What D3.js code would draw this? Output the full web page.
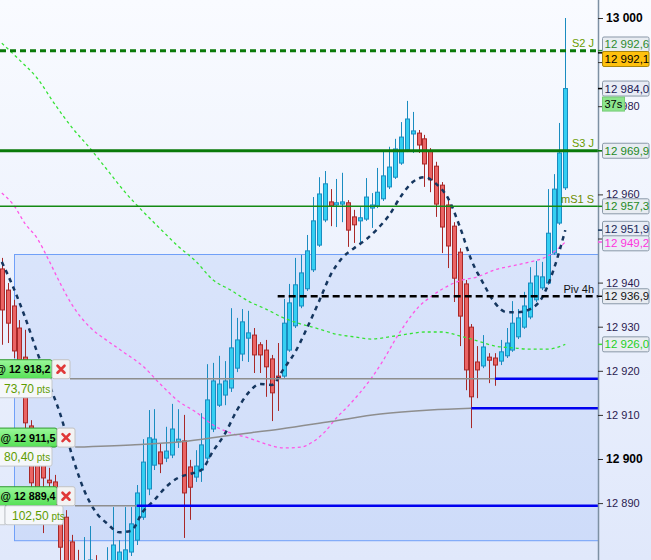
<!DOCTYPE html>
<html><head><meta charset="utf-8">
<script src="https://cdn.jsdelivr.net/npm/d3@7/dist/d3.min.js"></script>
<style>html,body{margin:0;padding:0;background:#fff;}svg{display:block;font-family:"Liberation Sans",Arial,Helvetica,sans-serif;}</style>
</head><body>
<svg id="chart" width="651" height="560"></svg>
<script>
// ---------------- DATA ----------------
const openP=[12943.1,12938.3,12934.7,12929.7,12923.1,12907.5,12905.0,12904.3,12895.2,12894.8,12886.8,12886.8,12881.2,12876.0,12872.6,12873.7,12874.8,12871.4,12872.6,12874.8,12873.7,12876.0,12878.9,12881.6,12886.8,12893.2,12898.6,12901.6,12900.2,12900.9,12903.9,12904.1,12898.2,12895.9,12897.5,12900.2,12906.8,12912.2,12914.5,12916.1,12920.6,12923.8,12927.4,12928.1,12925.9,12924.7,12922.7,12918.8,12918.8,12924.7,12930.2,12934.7,12938.6,12942.9,12948.5,12954.2,12958.3,12957.6,12957.8,12958.1,12954.9,12954.0,12954.4,12956.9,12957.4,12959.0,12961.7,12963.9,12967.1,12970.1,12973.7,12973.9,12972.6,12969.8,12966.4,12962.1,12957.6,12952.8,12946.9,12939.7,12929.9,12922.0,12921.1,12923.1,12922.9,12922.2,12923.4,12924.7,12927.7,12929.9,12932.2,12936.1,12938.8,12939.9,12946.7,12953.5,12961.5];
const highP=[12945.6,12939.9,12936.1,12931.5,12929.3,12908.8,12906.6,12905.4,12898.0,12896.4,12889.6,12888.4,12882.8,12879.4,12882.3,12884.8,12878.2,12877.1,12880.0,12889.1,12881.6,12889.1,12889.1,12894.1,12904.5,12911.1,12911.3,12903.6,12907.3,12912.5,12911.3,12910.0,12899.8,12902.0,12910.4,12921.5,12921.8,12923.4,12922.2,12934.2,12932.0,12934.0,12933.6,12929.7,12926.5,12927.0,12923.6,12926.3,12936.3,12939.7,12945.6,12946.3,12950.8,12959.4,12963.9,12965.3,12961.2,12963.5,12964.9,12958.7,12956.5,12957.1,12963.7,12960.3,12966.0,12969.8,12970.8,12972.6,12976.4,12981.2,12978.7,12974.6,12973.5,12970.5,12967.4,12962.8,12958.7,12953.7,12947.8,12940.6,12930.6,12925.6,12928.1,12924.0,12924.0,12927.0,12929.7,12935.8,12934.0,12937.9,12943.5,12944.9,12944.7,12961.2,12964.6,12976.2,13000.0];
const lowP=[12925.9,12926.3,12922.9,12920.2,12906.6,12893.0,12887.8,12883.2,12890.7,12886.2,12877.1,12873.7,12872.6,12869.2,12870.3,12870.3,12870.3,12869.2,12870.3,12873.7,12872.6,12874.8,12878.0,12880.5,12886.2,12891.8,12897.5,12896.8,12899.3,12900.2,12902.5,12882.1,12886.2,12894.8,12894.8,12899.3,12906.1,12911.8,12912.2,12915.2,12919.7,12922.2,12922.0,12919.5,12919.5,12914.1,12908.6,12910.9,12918.4,12924.3,12929.7,12934.2,12938.1,12942.4,12948.1,12953.7,12952.8,12952.6,12953.7,12948.1,12949.0,12949.2,12954.0,12952.4,12956.9,12958.5,12961.2,12963.5,12966.7,12969.6,12969.4,12969.4,12961.7,12960.5,12954.9,12946.7,12943.3,12935.6,12925.6,12915.6,12907.0,12913.8,12920.6,12917.2,12916.6,12921.3,12922.9,12924.3,12927.2,12929.5,12931.7,12935.6,12938.3,12939.5,12946.3,12953.1,12961.0];
const closeP=[12933.8,12930.8,12924.5,12922.0,12908.2,12894.6,12893.0,12895.7,12894.6,12889.1,12880.0,12876.0,12874.8,12871.4,12874.8,12877.1,12872.6,12873.7,12876.0,12880.5,12878.9,12879.4,12885.3,12892.3,12899.3,12904.8,12904.5,12898.9,12901.8,12906.8,12904.5,12892.3,12893.6,12898.4,12903.2,12913.4,12917.7,12917.0,12917.7,12925.2,12927.0,12931.1,12928.6,12923.6,12923.6,12920.9,12915.0,12918.4,12930.8,12935.4,12939.5,12942.2,12947.2,12954.0,12960.1,12962.4,12957.4,12958.1,12958.3,12951.9,12953.1,12954.7,12959.4,12957.6,12960.5,12964.2,12966.2,12970.3,12973.0,12977.1,12974.4,12971.2,12966.9,12963.3,12957.8,12952.6,12948.3,12941.0,12932.4,12920.2,12914.1,12920.2,12925.4,12922.4,12921.3,12924.3,12926.3,12930.8,12932.0,12934.7,12939.9,12941.5,12941.3,12951.2,12961.2,12969.4,12984.0];

// moving averages: [candle index] / [value]
const navyIdx=[0,2,4,6,8,10,12,14,16,18,20,22,24,26,28,30,32,34,36,38,40,42,44,46,48,50,52,54,56,58,60,62,64,66,68,70,72,74,76,78,80,82,84,86,88,90,92,94,96];
const navyVal=[12944.7,12938.8,12932.0,12924.3,12917.2,12910.0,12900.7,12893.0,12888.0,12885.3,12883.4,12883.7,12888.0,12890.7,12893.7,12895.7,12896.6,12897.5,12901.8,12905.7,12910.9,12915.0,12917.0,12916.8,12920.4,12924.3,12929.7,12935.6,12941.7,12945.6,12947.8,12949.7,12952.2,12955.3,12959.6,12962.8,12963.9,12962.4,12959.2,12952.8,12945.1,12939.9,12935.4,12933.3,12933.3,12934.0,12936.5,12942.9,12951.9];
const greenIdx=[0,3,6,9,12,15,18,21,24,27,30,33,36,39,42,45,48,51,54,57,60,63,66,69,72,75,78,81,84,87,90,93,96];
const greenVal=[12994.3,12990.5,12986.4,12980.5,12975.1,12970.5,12965.5,12960.5,12956.2,12952.2,12948.3,12944.9,12940.6,12938.3,12935.8,12934.0,12932.0,12930.6,12929.5,12928.3,12927.7,12927.2,12927.7,12928.3,12928.8,12928.8,12927.9,12926.8,12925.6,12925.2,12924.9,12924.9,12926.0];
const magIdx=[0,2,4,6,8,10,12,15,18,21,24,27,30,33,36,39,42,45,48,51,53,55,57,59,61,63,65,67,69,71,73,75,78,81,84,87,90,93,96];
const magVal=[12960.3,12957.6,12953.3,12950.1,12945.1,12939.7,12934.9,12929.9,12926.8,12924.0,12921.1,12917.0,12913.2,12910.7,12907.7,12905.9,12904.8,12903.4,12902.5,12902.7,12903.9,12906.1,12909.3,12912.0,12915.0,12918.4,12922.4,12927.0,12931.1,12934.5,12936.7,12938.5,12940.4,12941.3,12942.9,12943.8,12944.7,12946.0,12949.2];
const greyIdx=[12.5,22,30.5,39,47.5,56,64.5,73,80];
const greyVal=[12902.7,12903.2,12903.9,12905.4,12906.8,12908.5,12910.2,12911.1,12911.5];

// levels
const levelNames=["S2 J","S3 J","mS1 S","Piv 4h"];
const levelValues=[12992.6,12969.9,12957.3,12936.9];
const pivStartIdx=47;

// zone box
const zoneTop=12946.5, zoneBottom=12881.6, zoneStartIdx=2.1;

// orders
const orderPrices=[12918.2,12911.5,12889.4];
const orderPts=["73,70","80,40","102,50"];
const orderStartIdx=[84,80,23];

// axis
const tickValues=[12890,12900,12910,12920,12930,12940,12950,12960,12970,12980,12990,13000];
const priceLabels=[12992.6,12992.1,12984.0,12969.9,12957.3,12951.9,12949.2,12936.9,12926.0];
const timerText="37s";

// ---------------- DRAW ----------------
const svg=d3.select("#chart");
const W=651,H=560,AX=598;
const y=d3.scaleLinear().domain([12900,13000]).range([459,18]);
const x=d3.scaleLinear().domain([0,96]).range([1.8,565.3]);
const loc=d3.formatLocale({decimal:",",thousands:" ",grouping:[3],currency:["",""]});
const f0=loc.format(",.0f"), f1=loc.format(",.1f");

const defs=svg.append("defs");
const bg=defs.append("linearGradient").attr("id","bg").attr("x1",0).attr("y1",0).attr("x2",0).attr("y2",1);
bg.append("stop").attr("offset",0).attr("stop-color","#f9fbff");
bg.append("stop").attr("offset",1).attr("stop-color","#e0e8fb");
const gg=defs.append("linearGradient").attr("id","gGreen").attr("x1",0).attr("y1",0).attr("x2",0).attr("y2",1);
gg.append("stop").attr("offset",0).attr("stop-color","#9af79a");
gg.append("stop").attr("offset",1).attr("stop-color","#55e055");

svg.append("rect").attr("width",W).attr("height",H).attr("fill","url(#bg)");

// zone box
svg.append("rect").attr("x",Math.round(x(zoneStartIdx))+0.5).attr("y",Math.round(y(zoneTop))+0.5)
  .attr("width",AX-Math.round(x(zoneStartIdx))).attr("height",y(zoneBottom)-y(zoneTop))
  .attr("fill","#6f9bf5").attr("fill-opacity",0.16).attr("stroke","#70a0f8").attr("stroke-width",1);

// candles
const candles=openP.map((o,i)=>({i,o,h:highP[i],l:lowP[i],c:closeP[i],up:closeP[i]>=o}));
const cg=svg.append("g");
cg.selectAll("line").data(candles).join("line")
  .attr("x1",d=>Math.round(x(d.i))+0.5).attr("x2",d=>Math.round(x(d.i))+0.5)
  .attr("y1",d=>y(d.h)).attr("y2",d=>y(d.l))
  .attr("stroke",d=>d.up?"#1a8cc0":"#a82828").attr("stroke-width",1);
cg.selectAll("rect").data(candles).join("rect")
  .attr("x",d=>Math.round(x(d.i))-1.5).attr("width",4)
  .attr("y",d=>Math.min(y(d.o),y(d.c))).attr("height",d=>Math.max(1.5,Math.abs(y(d.o)-y(d.c))))
  .attr("fill",d=>d.up?"#35cff2":"#ea6464").attr("stroke",d=>d.up?"#1a8cc0":"#a82828").attr("stroke-width",1);

const lineGen=(idx,val)=>d3.line().curve(d3.curveMonotoneX).x((d,i)=>x(idx[i])).y(d=>y(d))(val);

// green & magenta MAs
svg.append("path").attr("d",lineGen(greenIdx,greenVal)).attr("fill","none").attr("stroke","#36e236").attr("stroke-width",1.3).attr("stroke-dasharray","3,3");
svg.append("path").attr("d",lineGen(magIdx,magVal)).attr("fill","none").attr("stroke","#ff55e6").attr("stroke-width",1.3).attr("stroke-dasharray","3,3");
// grey connector curve
svg.append("path").attr("d",lineGen(greyIdx,greyVal)).attr("fill","none").attr("stroke","#8e8e8e").attr("stroke-width",1.5);
// navy MA
svg.append("path").attr("d",lineGen(navyIdx,navyVal)).attr("fill","none").attr("stroke","#15365f").attr("stroke-width",2.5).attr("stroke-dasharray","4.5,4.5");

// level lines
const lvStyle=[
 {c:"#0a7a0a",w:3,dash:"6,4",tc:"#6a9c00"},
 {c:"#0a7a0a",w:3,dash:null,tc:"#6a9c00"},
 {c:"#148a14",w:1.5,dash:null,tc:"#6e8c00"},
 {c:"#000000",w:2.5,dash:"7,4",tc:"#111111"}];
levelValues.forEach((v,k)=>{
  const s=lvStyle[k];
  const x0=(k===3)?x(pivStartIdx):0;
  svg.append("line").attr("x1",x0).attr("x2",AX).attr("y1",y(v)).attr("y2",y(v))
    .attr("stroke",s.c).attr("stroke-width",s.w).attr("stroke-dasharray",s.dash);
  svg.append("text").attr("x",594).attr("y",y(v)-3.5).attr("text-anchor","end")
    .attr("font-size",11).attr("fill",s.tc).text(levelNames[k]);
});

// orders
const shift=[-5,0,0];
orderPrices.forEach((p,k)=>{
  const aY=(k===1)?y(greyVal[0]):y(p);
  const sx=shift[k];
  const lineStart=x(orderStartIdx[k]);
  if(k!==1){
    svg.append("line").attr("x1",sx+75).attr("x2",lineStart).attr("y1",y(p)).attr("y2",y(p)).attr("stroke","#8e8e8e").attr("stroke-width",1.5);
  }
  svg.append("line").attr("x1",lineStart).attr("x2",AX).attr("y1",y(p)).attr("y2",y(p)).attr("stroke","#0000f0").attr("stroke-width",2.6);
  const g=svg.append("g");
  g.append("rect").attr("x",sx-3).attr("y",aY-19).attr("width",60).attr("height",19).attr("rx",2)
    .attr("fill","url(#gGreen)").attr("stroke","#2f9a2f");
  g.append("text").attr("x",sx+0.5).attr("y",aY-5.5).attr("font-size",11).attr("font-weight","bold").attr("fill","#000")
    .attr("textLength",55).attr("lengthAdjust","spacingAndGlyphs").text("@ "+f1(p));
  g.append("rect").attr("x",sx+57).attr("y",aY-19).attr("width",18).attr("height",19).attr("rx",2)
    .attr("fill","#f3f3f3").attr("stroke","#c2c2c2");
  const cx=sx+66, cy=aY-9.5;
  g.append("path").attr("d",`M${cx-3.5},${cy-3.5}L${cx+3.5},${cy+3.5}M${cx+3.5},${cy-3.5}L${cx-3.5},${cy+3.5}`)
    .attr("stroke","#e03838").attr("stroke-width",2.6).attr("stroke-linecap","round");
  const b2x=(k===2)?5:-3, b2w=(k===2)?58:55;
  if(k===2){ g.append("rect").attr("x",-3).attr("y",aY).attr("width",8).attr("height",19).attr("fill","#f5f7fa").attr("stroke","#c4c8cc"); }
  g.append("rect").attr("x",b2x).attr("y",aY).attr("width",b2w).attr("height",19).attr("rx",2)
    .attr("fill","#f5f7fa").attr("stroke","#c4c8cc");
  const t=g.append("text").attr("x",b2x+7).attr("y",aY+14).attr("font-size",12).attr("fill","#5e9c00").text(orderPts[k]);
  t.append("tspan").attr("font-size",10).text(" pts");
});

// right price labels: layout
const items=priceLabels.map((v,k)=>({v,k,y0:y(v),y:y(v)}));
items.sort((a,b)=>a.y0-b.y0);
for(let it=0;it<60;it++){
  for(let i=1;i<items.length;i++){
    const a=items[i-1],b=items[i],ov=14.5-(b.y-a.y);
    if(ov>0){a.y-=ov/2;b.y+=ov/2;}
  }
}

// axis
const axis=d3.axisRight(y).tickValues(tickValues).tickSize(5).tickSizeOuter(0).tickPadding(3).tickFormat(f0);
const gAx=svg.append("g").attr("transform",`translate(${AX},0)`).call(axis);
gAx.select(".domain").attr("d",`M0.5,0V${H}`).attr("stroke","#7d90a3").attr("stroke-width",1.5);
gAx.selectAll(".tick line").attr("stroke","#333");
gAx.selectAll(".tick text").attr("font-size",d=>(d%100===0)?12:11).attr("font-weight",d=>(d%100===0)?"bold":"normal")
  .attr("fill",d=>(d%100===0)?"#000":"#2a1a50").attr("font-family","Liberation Sans, Arial, sans-serif");
// hide tick labels fully covered by a price label box
gAx.selectAll(".tick text").filter(d=>items.some(it=>Math.abs(it.y-y(d))<10)).remove();

const plStyle=[
 {t:"#2e8b2e",bg:"#e8ecf2",b:"#8a99a8",tick:"#2e8b2e"},
 {t:"#000000",bg:"#ffc10e",b:"#a9860a",tick:"#000"},
 {t:"#1c1c55",bg:"#e8ecf5",b:"#8a99a8",tick:"#000"},
 {t:"#1f8a1f",bg:"#e8ecf2",b:"#8a99a8",tick:"#0a7a0a"},
 {t:"#1f8a1f",bg:"#e8ecf2",b:"#8a99a8",tick:"#148a14"},
 {t:"#1a2a5a",bg:"#e8ecf5",b:"#8a99a8",tick:"#15365f"},
 {t:"#ff33dd",bg:"#e8ecf5",b:"#8a99a8",tick:"#ff55e6"},
 {t:"#111111",bg:"#e8ecf2",b:"#8a99a8",tick:"#000"},
 {t:"#1fd01f",bg:"#e8ecf2",b:"#8a99a8",tick:"#36e236"}];
items.forEach(d=>{
  const s=plStyle[d.k];
  svg.append("line").attr("x1",AX).attr("x2",AX+5).attr("y1",d.y0).attr("y2",d.y0).attr("stroke",s.tick).attr("stroke-width",1.5);
  svg.append("rect").attr("x",602.5).attr("y",d.y-7.5).attr("width",46.5).attr("height",15).attr("rx",1.5)
    .attr("fill",s.bg).attr("stroke",s.b);
  svg.append("text").attr("x",604.5).attr("y",d.y+4).attr("font-size",11.5).attr("fill",s.t).text(f1(d.v));
});
// timer box
const cur=items.find(d=>d.k===2);
svg.append("rect").attr("x",602.5).attr("y",cur.y+8.5).attr("width",22).attr("height",14).attr("fill","#8de58d").attr("stroke","#77cc77");
svg.append("text").attr("x",604.5).attr("y",cur.y+19.5).attr("font-size",11).attr("fill","#000").text(timerText);
</script>
</body></html>
